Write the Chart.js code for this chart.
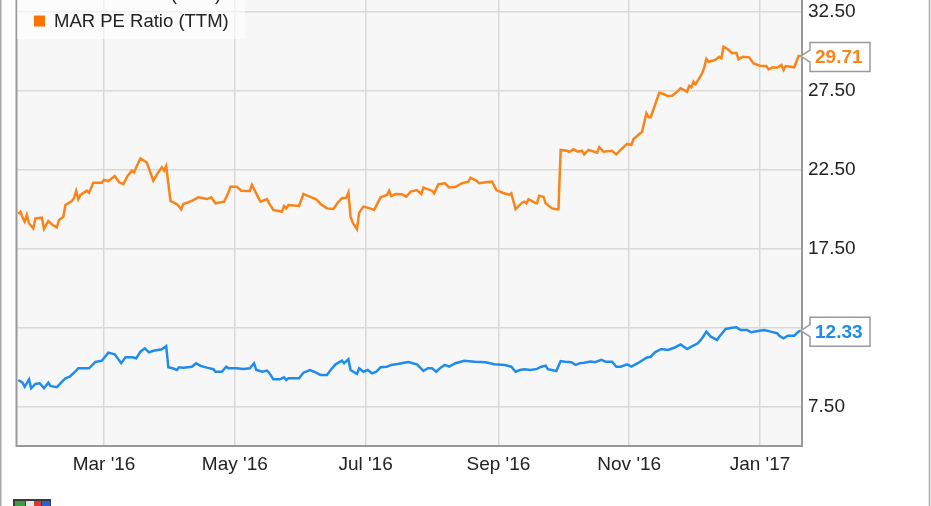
<!DOCTYPE html>
<html>
<head>
<meta charset="utf-8">
<script src="https://cdn.jsdelivr.net/npm/chart.js@4/dist/chart.umd.min.js"></script>
<style>
html,body{margin:0;padding:0;background:#fff;}
canvas{display:block;}
</style>
</head>
<body>
<canvas id="c" width="931" height="506"></canvas>
<script>
// ---- data (x = days since 2016-01-01) ----
const tickDays = [60, 121, 182, 244, 305, 366];
const tickLabels = ["Mar '16", "May '16", "Jul '16", "Sep '16", "Nov '16", "Jan '17"];
const yTicks = [7.5, 12.5, 17.5, 22.5, 27.5, 32.5];
const seriesNames = ["HLT PE Ratio (TTM)", "MAR PE Ratio (TTM)"];
const seriesColors = ["#1f8ceb", "#fb8418"];

const marDays = [20,21,22,23,24,25,27,28,31,32,
 34,36,38,39,41,42,45,46,47,48,
 49,52,53,55,59,60,62,65,67,69,
 71,73,74,75,77,80,83,85,87,88,
 89,91,94,95,96,97,101,104,108,110,
 112,116,118,119,122,124,128,129,131,133,
 136,137,139,141,143,144,145,146,151,153,
 156,159,161,164,167,169,171,173,174,175,
 176,178,179,181,184,186,189,192,193,194,
 196,199,201,203,206,208,209,213,214,216,
 219,221,224,227,230,231,234,235,238,241,
 243,246,249,250,252,255,256,257,258,261,
 262,263,265,266,269,271,272,273,276,277,
 279,281,283,284,286,290,291,293,297,299,
 301,304,306,307,311,313,314,315,317,319,
 321,323,325,327,329,332,333,334,335,336,
 339,340,341,342,345,347,348,349,351,353,
 355,356,358,361,363,366,369,370,372,374,
 376,377,378,382,384,385];
const marValues = [19.72,19.86,19.5,19.23,19.65,19.13,18.8,19.44,19.48,18.77,
 19.27,19.02,18.87,19.34,19.54,20.28,20.54,20.71,21.17,20.65,
 20.92,21.19,21.06,21.7,21.7,21.87,21.8,22.12,21.72,21.61,
 22.12,22.46,22.35,22.67,23.24,22.96,21.82,22.29,22.67,22.46,
 22.75,20.54,20.33,20.18,20.01,20.35,20.54,20.77,20.66,20.77,
 20.39,20.49,21.06,21.44,21.44,21.19,21.17,21.55,21.02,20.49,
 20.66,20.39,19.97,19.92,19.86,20.22,20.07,20.28,20.22,20.98,
 20.81,20.65,20.35,20.07,20.03,20.43,20.71,20.75,21.08,19.54,
 19.16,18.75,19.8,20.18,20.07,19.97,20.77,20.92,21.19,20.85,
 20.98,20.96,20.81,21.13,21.23,20.98,21.38,21.19,21.02,21.6,
 21.66,21.4,21.44,21.66,21.76,22.01,21.8,21.66,21.72,21.76,
 21.23,21.06,20.92,21.02,20.03,20.43,20.49,20.39,20.65,20.43,
 20.4,20.87,20.81,20.39,20.07,20.01,20.01,23.77,23.72,23.64,
 23.81,23.66,23.72,23.49,23.77,23.6,23.94,23.66,23.72,23.49,
 23.77,24.15,24.08,24.46,24.92,26.09,25.84,25.84,26.61,27.39,
 27.31,27.18,27.2,27.42,27.67,27.46,27.82,27.73,28.09,27.94,
 28.62,29.0,29.53,29.35,29.46,29.67,29.57,30.3,30.14,29.89,
 29.92,29.5,29.67,29.63,29.25,29.1,29.08,28.87,29.0,28.97,
 29.15,28.83,29.08,29.0,29.71,29.71];

const hltDays = [20,22,23,25,26,28,30,32,34,35,
 38,40,42,44,47,48,53,56,59,62,
 65,68,70,73,75,77,79,81,83,87,
 89,90,92,94,95,97,101,103,105,108,
 111,112,115,117,118,122,125,128,130,131,
 134,136,137,139,142,144,145,146,151,153,
 156,158,161,164,166,168,171,172,174,175,
 178,179,181,183,185,187,189,192,194,197,
 200,202,204,206,209,211,213,215,217,219,
 221,224,228,233,238,242,247,250,252,254,
 256,259,262,264,266,267,269,271,273,275,
 278,280,282,284,287,289,292,294,297,299,
 301,304,306,309,313,315,317,320,323,326,
 329,332,334,337,339,341,343,344,346,347,
 350,353,355,357,360,362,365,368,371,374,
 375,377,379,382,384,385];
const hltValues = [9.21,9.04,8.78,9.25,8.68,8.96,9.0,8.68,9.04,8.83,
 8.75,9.04,9.32,9.42,9.8,9.95,9.95,10.35,10.43,10.94,
 10.83,10.27,10.65,10.65,10.58,11.0,11.21,10.96,11.06,11.15,
 11.36,10.01,9.95,9.84,10.01,9.99,10.05,10.27,10.1,9.99,
 9.89,9.73,9.73,10.05,9.95,9.95,9.91,9.95,10.27,9.84,
 9.73,9.8,9.67,9.25,9.25,9.38,9.21,9.32,9.32,9.67,
 9.84,9.73,9.53,9.53,9.89,10.2,10.43,10.27,10.52,9.84,
 9.59,9.95,9.73,9.84,9.63,9.73,10.01,10.05,10.16,10.22,
 10.3,10.35,10.27,10.2,9.78,9.95,9.95,9.73,9.99,10.16,
 10.05,10.27,10.43,10.37,10.33,10.2,10.16,10.05,9.73,9.84,
 9.89,9.84,9.91,10.05,10.12,9.89,9.84,9.78,10.41,10.37,
 10.33,10.16,10.27,10.3,10.37,10.33,10.48,10.37,10.37,10.05,
 10.05,10.2,10.05,10.27,10.62,10.68,10.96,11.17,11.11,11.25,
 11.46,11.17,11.32,11.53,11.85,12.27,11.95,11.89,11.74,11.95,
 12.44,12.52,12.54,12.37,12.37,12.23,12.31,12.37,12.27,12.17,
 12.01,11.85,12.01,12.01,12.27,12.33];

const FONT = "'Liberation Sans', Arial, sans-serif";
Chart.defaults.font.family = FONT;

function toPoints(days, vals){ return days.map((d,i)=>({x:d, y:vals[i]})); }

const decor = {
  id: 'decor',
  beforeDraw(chart){
    const {ctx, chartArea:a} = chart;
    ctx.save();
    ctx.fillStyle = '#ffffff';
    ctx.fillRect(0,0,chart.width,chart.height);
    ctx.fillStyle = '#f7f7f7';
    ctx.fillRect(a.left, a.top, a.right-a.left, a.bottom-a.top);
    ctx.restore();
  },
  afterDraw(chart){
    const {ctx, chartArea:a} = chart;
    ctx.save();
    // plot border (left, right, bottom)
    ctx.strokeStyle = '#999999';
    ctx.lineWidth = 2;
    ctx.beginPath();
    ctx.moveTo(a.left-0.5, a.top); ctx.lineTo(a.left-0.5, a.bottom);
    ctx.lineTo(a.right, a.bottom); ctx.lineTo(a.right, a.top);
    ctx.stroke();
    // outer frame
    ctx.strokeStyle = '#a8a8a8';
    ctx.lineWidth = 1.5;
    ctx.beginPath();
    ctx.moveTo(0.75, 0); ctx.lineTo(0.75, chart.height);
    ctx.moveTo(929.5, 0); ctx.lineTo(929.5, chart.height);
    ctx.stroke();

    // legend overlay
    ctx.fillStyle = 'rgba(255,255,255,0.6)';
    ctx.fillRect(a.left, 0, 228, 39);
    ctx.font = '18.5px ' + FONT;
    ctx.textBaseline = 'middle';
    ctx.textAlign = 'left';
    const rowsY = [-6, 21];
    const legendColors = ['#a9d1f5', '#ff7200'];
    for (let i=0;i<2;i++){
      ctx.fillStyle = legendColors[i];
      ctx.fillRect(34, rowsY[i]-5.5, 11, 11);
      ctx.fillStyle = '#222';
      ctx.fillText(seriesNames[i], 54, rowsY[i]+1);
    }

    // end value callouts
    chart.data.datasets.forEach((ds, i) => {
      const meta = chart.getDatasetMeta(i);
      const pt = meta.data[meta.data.length-1];
      const tipX = pt.x, cy = pt.y;
      const left = 810, right = 870, top = cy-13.5, bottom = cy+15.5;
      ctx.beginPath();
      ctx.moveTo(left, top);
      ctx.lineTo(right, top);
      ctx.lineTo(right, bottom);
      ctx.lineTo(left, bottom);
      ctx.lineTo(left, cy+6);
      ctx.lineTo(tipX, cy);
      ctx.lineTo(left, cy-6);
      ctx.closePath();
      ctx.fillStyle = '#ffffff';
      ctx.fill();
      ctx.strokeStyle = '#9a9a9a';
      ctx.lineWidth = 1.5;
      ctx.stroke();
      ctx.fillStyle = ds.borderColor;
      ctx.font = 'bold 19px ' + FONT;
      ctx.textBaseline = 'middle';
      ctx.fillText(ds.data[ds.data.length-1].y.toFixed(2), 815, cy+2);
    });

    // partial logo at bottom-left
    ctx.fillStyle = '#3a3a3a';
    ctx.fillRect(13, 499, 38, 7);
    ctx.fillStyle = '#3f9d3f'; ctx.fillRect(15, 501, 10, 5);
    ctx.fillStyle = '#e8e8e8'; ctx.fillRect(26, 501, 8, 5);
    ctx.fillStyle = '#d83a2e'; ctx.fillRect(34, 501, 7, 5);
    ctx.fillStyle = '#2a62d6'; ctx.fillRect(42, 501, 8, 5);
    ctx.restore();
  }
};

new Chart(document.getElementById('c'), {
  type: 'line',
  data: {
    datasets: [
      { label: seriesNames[0], data: toPoints(hltDays, hltValues), borderColor: seriesColors[0],
        borderWidth: 2.5, pointRadius: 0, tension: 0, fill: false },
      { label: seriesNames[1], data: toPoints(marDays, marValues), borderColor: seriesColors[1],
        borderWidth: 2.5, pointRadius: 0, tension: 0, fill: false }
    ]
  },
  options: {
    responsive: false,
    animation: false,
    devicePixelRatio: 1,
    layout: { padding: { left: 17, right: 0, top: 0, bottom: 0 } },
    plugins: { legend: { display: false }, tooltip: { enabled: false } },
    scales: {
      x: {
        type: 'linear', min: 19.4, max: 385.6,
        afterBuildTicks: s => { s.ticks = tickDays.map(v => ({ value: v })); },
        afterFit: s => { s.height = 60; s.paddingLeft = 0; s.paddingRight = 0; },
        ticks: { autoSkip: false, maxRotation: 0, padding: 7, color: '#222',
                 font: { size: 19 },
                 callback: v => tickLabels[tickDays.indexOf(v)] },
        grid: { color: '#d9d9d9', lineWidth: 1.5, drawTicks: false },
        border: { display: false }
      },
      y: {
        type: 'linear', position: 'right', min: 5.03, max: 33.26,
        afterBuildTicks: s => { s.ticks = yTicks.map(v => ({ value: v })); },
        afterFit: s => { s.width = 129; s.paddingTop = 0; s.paddingBottom = 0; },
        ticks: { padding: 6, color: '#222', font: { size: 19 },
                 callback: v => Number(v).toFixed(2) },
        grid: { color: '#d9d9d9', lineWidth: 1.5, drawTicks: false },
        border: { display: false }
      }
    }
  },
  plugins: [decor]
});
</script>
</body>
</html>
